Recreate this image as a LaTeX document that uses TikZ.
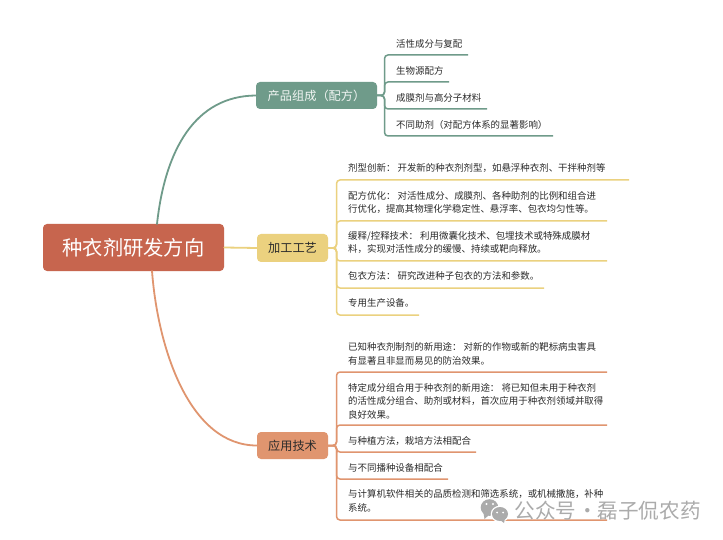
\documentclass[tikz,border=0pt]{standalone}
\usepackage{fontspec}
\setmainfont{Noto Sans CJK SC}
\definecolor{cMain}{HTML}{C7654E}
\definecolor{cGreen}{HTML}{6F9B8A}
\definecolor{cYellow}{HTML}{EBD17F}
\definecolor{cOrange}{HTML}{E0956F}
\definecolor{cText}{HTML}{2B2B2B}
\definecolor{cMark}{HTML}{ABABAB}
\tikzset{
  x=1pt,y=-1pt,
  topic/.style={rounded corners=4pt,inner sep=0pt,font=\fontsize{12.2}{14}\selectfont,text=cText},
  leaf/.style={anchor=west,inner sep=0pt,align=left,text=cText,font=\fontsize{9.45}{13.5}\selectfont},
  link/.style={line width=1.8pt,line cap=round},
  branch/.style={line width=1.5pt,rounded corners=3.5pt},
}
\begin{document}
\begin{tikzpicture}
\useasboundingbox (0,0) rectangle (723,540);
\fill[white] (0,0) rectangle (723,540);
% central and topic nodes
\node[topic,fill=cMain,text=white,minimum width=181pt,minimum height=47pt,font=\fontsize{20.3}{24}\selectfont] (main) at (133.5,247.5) {种衣剂研发方向};
\node[topic,fill=cGreen,text=white!90!cGreen,minimum width=121pt,minimum height=27pt] (n1) at (316.5,95.5) {产品组成（配方）};
\node[topic,fill=cYellow,minimum width=71pt,minimum height=28pt] (n2) at (292.5,248) {加工工艺};
\node[topic,fill=cOrange,minimum width=71pt,minimum height=27pt] (n3) at (292.5,445.5) {应用技术};
% main connectors
\coordinate (m1) at (157,224);
\coordinate (m3) at (152,271);
\draw[link,cGreen] (m1) .. controls (165,150) and (195,96) .. (n1.west);
\draw[link,cYellow] (main.east) -- (n2.west);
\draw[link,cOrange] (m3) .. controls (158,350) and (190,445.5) .. (n3.west);
% junctions
\coordinate (j1) at (384.5,95.5);
\coordinate (j2) at (336.5,248);
\coordinate (j3) at (336.5,445.5);
% leaf underline ends
\coordinate (a1) at (468,55);
\coordinate (a2) at (449,82);
\coordinate (a3) at (487,109);
\coordinate (a4) at (553,136);
\coordinate (b1) at (629,180);
\coordinate (b2) at (607,221);
\coordinate (b3) at (607,261);
\coordinate (b4) at (544,288);
\coordinate (b5) at (419,315);
\coordinate (c1) at (607,372);
\coordinate (c2) at (607,425);
\coordinate (c3) at (476,452);
\coordinate (c4) at (448,479);
\coordinate (c5) at (607,520);
\foreach \e in {a1,a2,a3,a4} \draw[branch,cGreen] (n1.east) -- (j1) |- (\e);
\foreach \e in {b1,b2,b3,b4,b5} \draw[branch,cYellow] (n2.east) -- (j2) |- (\e);
\foreach \e in {c1,c2,c3,c4,c5} \draw[branch,cOrange] (n3.east) -- (j3) |- (\e);
% leaf texts
\node[leaf] (ta1) at (396,44) {活性成分与复配};
\node[leaf] (ta2) at (396,71) {生物源配方};
\node[leaf] (ta3) at (396,98) {成膜剂与高分子材料};
\node[leaf] (ta4) at (396,125) {不同助剂（对配方体系的显著影响）};
\node[leaf] (tb1) at (348,168) {剂型创新： 开发新的种衣剂剂型，如悬浮种衣剂、干拌种剂等};
\node[leaf] (tb2) at (348,202.5) {配方优化： 对活性成分、成膜剂、各种助剂的比例和组合进\\行优化，提高其物理化学稳定性、悬浮率、包衣均匀性等。};
\node[leaf] (tb3) at (348,242.5) {缓释/控释技术： 利用微囊化技术、包埋技术或特殊成膜材\\料，实现对活性成分的缓慢、持续或靶向释放。};
\node[leaf] (tb4) at (348,276) {包衣方法： 研究改进种子包衣的方法和参数。};
\node[leaf] (tb5) at (348,303) {专用生产设备。};
\node[leaf] (tc1) at (348,354) {已知种衣剂制剂的新用途： 对新的作物或新的靶标病虫害具\\有显著且非显而易见的防治效果。};
\node[leaf] (tc2) at (348,401) {特定成分组合用于种衣剂的新用途： 将已知但未用于种衣剂\\的活性成分组合、助剂或材料，首次应用于种衣剂领域并取得\\良好效果。};
\node[leaf] (tc3) at (348,441) {与种植方法，栽培方法相配合};
\node[leaf] (tc4) at (348,468) {与不同播种设备相配合};
\node[leaf] (tc5) at (348,501) {与计算机软件相关的品质检测和筛选系统，或机械撒施，补种\\系统。};
% watermark
\fill[cMark] (489.5,507.5) ellipse (8.8pt and 8.3pt);
\fill[cMark] (484.5,519) -- (483.5,513) -- (489,515) -- cycle;
\fill[white] (500,514) ellipse (9.3pt and 8.3pt);
\fill[cMark] (500,514) ellipse (8pt and 7pt);
\fill[cMark] (504,523) -- (505,518) -- (500,520) -- cycle;
\fill[white] (486.5,504) circle (1.2pt) (493,504) circle (1.2pt) (497,512.5) circle (1pt) (503,512.5) circle (1pt);
\node[anchor=west,inner sep=0pt,text=cMark,font=\fontsize{20.6}{24}\selectfont] (wm) at (514.5,510.5) {公众号\hspace{1pt}·\hspace{-0.5pt}磊子侃农药};
\end{tikzpicture}
\end{document}
